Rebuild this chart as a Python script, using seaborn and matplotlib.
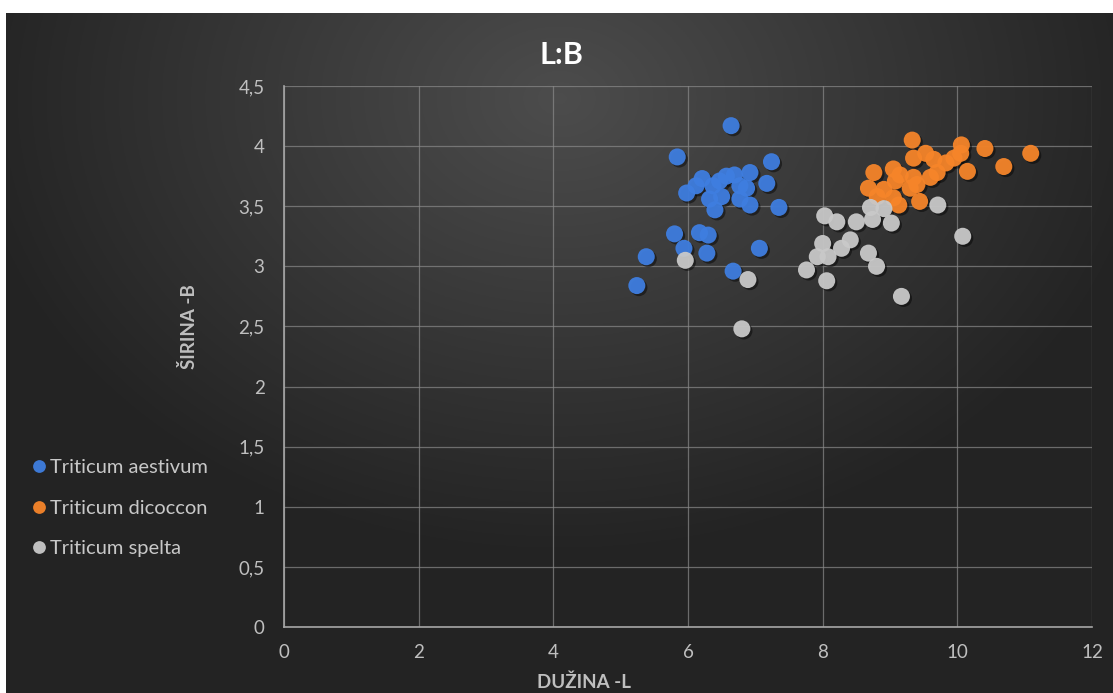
import numpy as np
import pandas as pd
import matplotlib
matplotlib.use("Agg")
import matplotlib.pyplot as plt
import matplotlib.patheffects as pe
import seaborn as sns

# values
aestivum_x = [6.64, 5.84, 7.24, 6.92, 6.21, 5.98, 6.57, 6.69, 7.17, 6.37, 6.50, 6.32, 6.40, 6.77, 6.92,
              6.77, 7.35, 6.12, 6.47, 6.87, 5.80, 6.17, 6.30, 5.94, 5.38, 6.28, 7.06, 6.67, 5.24]
aestivum_y = [4.17, 3.91, 3.87, 3.78, 3.73, 3.61, 3.75, 3.76, 3.69, 3.67, 3.58, 3.56, 3.47, 3.56, 3.51,
              3.67, 3.49, 3.67, 3.71, 3.65, 3.27, 3.28, 3.26, 3.15, 3.08, 3.11, 3.15, 2.96, 2.84]

dicoccon_x = [9.33, 10.06, 10.41, 11.09, 10.05, 9.35, 9.53, 9.65, 9.83, 9.95, 10.69, 10.15, 8.76, 9.05,
              9.15, 9.70, 9.60, 9.35, 9.40, 9.08, 9.30, 8.68, 8.91, 8.81, 9.05, 9.13, 9.44]
dicoccon_y = [4.05, 4.01, 3.98, 3.94, 3.94, 3.90, 3.94, 3.89, 3.86, 3.90, 3.83, 3.79, 3.78, 3.81,
              3.76, 3.78, 3.74, 3.74, 3.68, 3.71, 3.65, 3.65, 3.64, 3.58, 3.57, 3.51, 3.54]

spelta_x = [9.71, 8.71, 8.91, 8.03, 8.21, 8.50, 8.74, 9.02, 10.08, 8.41, 8.00, 8.28, 7.92, 8.08, 8.68,
            8.80, 7.76, 8.06, 9.17, 5.96, 6.89, 6.80]
spelta_y = [3.51, 3.49, 3.48, 3.42, 3.37, 3.37, 3.39, 3.36, 3.25, 3.22, 3.19, 3.15, 3.08, 3.08, 3.11,
            3.00, 2.97, 2.88, 2.75, 3.05, 2.89, 2.48]

species = ["Triticum aestivum", "Triticum dicoccon", "Triticum spelta"]
colors = ["#3f7ee0", "#f6852a", "#c9c9c9"]

x_ticks = [0, 2, 4, 6, 8, 10, 12]
y_ticks = [0, 0.5, 1, 1.5, 2, 2.5, 3, 3.5, 4, 4.5]
y_tick_labels = ["0", "0,5", "1", "1,5", "2", "2,5", "3", "3,5", "4", "4,5"]

df = pd.concat([
    pd.DataFrame({"L": aestivum_x, "B": aestivum_y, "vrsta": species[0]}),
    pd.DataFrame({"L": dicoccon_x, "B": dicoccon_y, "vrsta": species[1]}),
    pd.DataFrame({"L": spelta_x, "B": spelta_y, "vrsta": species[2]}),
])

sns.set_style("white")
plt.rcParams["font.family"] = ["Lato", "DejaVu Sans"]

W, H = 1113, 693
fig = plt.figure(figsize=(W / 100, H / 100), dpi=100)
fig.patch.set_facecolor("white")

# dark radial gradient panel (white strip on top and left like the screenshot)
bg = fig.add_axes([6 / W, 0, 1 - 6 / W, 1 - 13 / H])
gx, gy = np.meshgrid(np.linspace(-1, 1, 600), np.linspace(-1, 1, 400))
r = np.sqrt((gx / 1.0) ** 2 + ((gy + 0.75) / 1.25) ** 2)
shade = np.clip(0.30 - 0.15 * r, 0.14, 0.30)
bg.imshow(np.dstack([shade, shade, shade]), aspect="auto", extent=[0, 1, 0, 1], origin="upper")
bg.set_axis_off()

ax = fig.add_axes([284 / W, (H - 627) / H, (1092 - 284) / W, (627 - 86) / H])
ax.set_facecolor("none")

sns.scatterplot(data=df, x="L", y="B", hue="vrsta", hue_order=species, palette=colors,
                s=150, edgecolor="none", alpha=0.95, ax=ax, zorder=3)
for coll in ax.collections:
    coll.set_path_effects([pe.SimplePatchShadow(offset=(1.5, -1.5), shadow_rgbFace="black", alpha=0.45),
                           pe.Normal()])

ax.set_xlim(0, 12)
ax.set_ylim(0, 4.5)
ax.set_xticks(x_ticks)
ax.set_yticks(y_ticks)
ax.set_yticklabels(y_tick_labels)
ax.grid(True, color="#8a8a8a", linewidth=0.9, alpha=0.7, zorder=0)
ax.set_axisbelow(True)
for side in ["top", "right"]:
    ax.spines[side].set_visible(False)
for side in ["left", "bottom"]:
    ax.spines[side].set_color("#a6a6a6")
    ax.spines[side].set_linewidth(1.2)
ax.tick_params(colors="#bfbfbf", labelsize=13.5, length=0)
ax.tick_params(axis="x", pad=12)
ax.tick_params(axis="y", pad=14)

# x label sits at the very bottom edge, as in the screenshot
ax.set_xlabel("DUŽINA -L", color="#bfbfbf", fontsize=13.5, fontweight="bold", va="bottom")
ax.xaxis.set_label_coords((584 - 284) / 808, -(691 - 627) / 541)
ax.set_ylabel("ŠIRINA -B", color="#bfbfbf", fontsize=13.5, fontweight="bold")
ax.yaxis.set_label_coords((198 - 284) / 808, (627 - 327) / 541)

fig.text(561 / W, 1 - 55 / H, "L:B", ha="center", va="center", color="white",
         fontsize=22, fontweight="bold")

leg = ax.legend(loc="center left", bbox_to_anchor=(33 / W, (H - 508) / H),
                bbox_transform=fig.transFigure, frameon=False, fontsize=14.5, markerscale=0.75,
                handlelength=0.6, handletextpad=0.25, labelspacing=1.15, borderaxespad=0,
                borderpad=0)
for t in leg.get_texts():
    t.set_color("#c8c8c8")
for h in leg.legend_handles:
    h.set_path_effects([])

fig.savefig("out.png", dpi=100, facecolor=fig.get_facecolor())
